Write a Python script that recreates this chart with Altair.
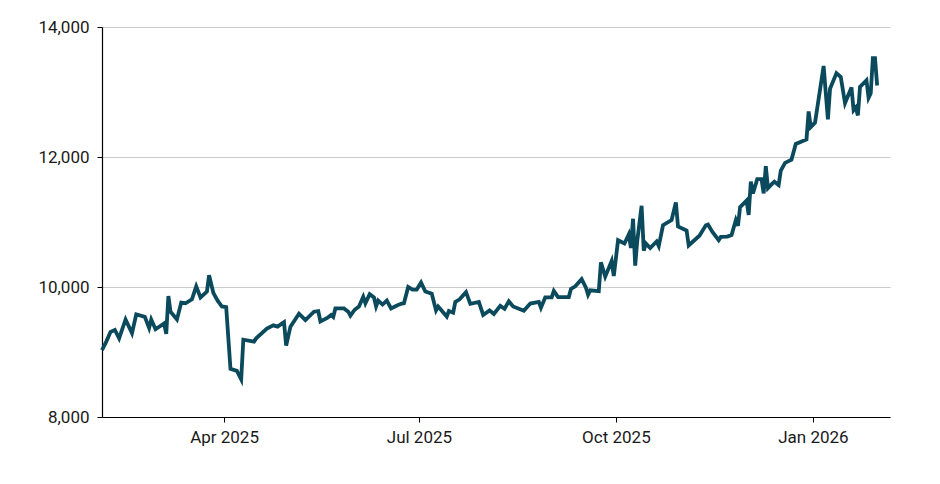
import altair as alt
import pandas as pd

dates = [
    "2025-02-03", "2025-02-05", "2025-02-07", "2025-02-09", "2025-02-11", "2025-02-14",
    "2025-02-17", "2025-02-19", "2025-02-23", "2025-02-25", "2025-02-26", "2025-02-28",
    "2025-03-04", "2025-03-05", "2025-03-06", "2025-03-07", "2025-03-10", "2025-03-12",
    "2025-03-14", "2025-03-17", "2025-03-19", "2025-03-21", "2025-03-24", "2025-03-25",
    "2025-03-27", "2025-03-29", "2025-03-31", "2025-04-02", "2025-04-04", "2025-04-07",
    "2025-04-09", "2025-04-10", "2025-04-15", "2025-04-16", "2025-04-21", "2025-04-24",
    "2025-04-26", "2025-04-29", "2025-04-30", "2025-05-02", "2025-05-06", "2025-05-09",
    "2025-05-13", "2025-05-15", "2025-05-16", "2025-05-19", "2025-05-21", "2025-05-22",
    "2025-05-23", "2025-05-27", "2025-05-29", "2025-05-30", "2025-06-01", "2025-06-03",
    "2025-06-05", "2025-06-06", "2025-06-08", "2025-06-10", "2025-06-11", "2025-06-12",
    "2025-06-14", "2025-06-16", "2025-06-18", "2025-06-21", "2025-06-23", "2025-06-24",
    "2025-06-26", "2025-06-28", "2025-06-30", "2025-07-02", "2025-07-04", "2025-07-07",
    "2025-07-09", "2025-07-10", "2025-07-14", "2025-07-15", "2025-07-17", "2025-07-18",
    "2025-07-20", "2025-07-23", "2025-07-25", "2025-07-29", "2025-07-31", "2025-08-03",
    "2025-08-05", "2025-08-08", "2025-08-10", "2025-08-12", "2025-08-14", "2025-08-19",
    "2025-08-22", "2025-08-26", "2025-08-27", "2025-08-29", "2025-09-01", "2025-09-02",
    "2025-09-04", "2025-09-09", "2025-09-10", "2025-09-12", "2025-09-15", "2025-09-17",
    "2025-09-18", "2025-09-19", "2025-09-23", "2025-09-24", "2025-09-26", "2025-09-29",
    "2025-09-30", "2025-10-02", "2025-10-05", "2025-10-07", "2025-10-08", "2025-10-09",
    "2025-10-10", "2025-10-11", "2025-10-13", "2025-10-14", "2025-10-15", "2025-10-17",
    "2025-10-20", "2025-10-21", "2025-10-23", "2025-10-27", "2025-10-29", "2025-10-30",
    "2025-11-03", "2025-11-04", "2025-11-06", "2025-11-09", "2025-11-12", "2025-11-13",
    "2025-11-15", "2025-11-18", "2025-11-19", "2025-11-22", "2025-11-24", "2025-11-26",
    "2025-11-27", "2025-11-28", "2025-12-01", "2025-12-02", "2025-12-03", "2025-12-04",
    "2025-12-06", "2025-12-08", "2025-12-09", "2025-12-10", "2025-12-11", "2025-12-13",
    "2025-12-14", "2025-12-16", "2025-12-17", "2025-12-19", "2025-12-22", "2025-12-24",
    "2025-12-29", "2025-12-30", "2025-12-31", "2026-01-02", "2026-01-06", "2026-01-08",
    "2026-01-09", "2026-01-12", "2026-01-14", "2026-01-16", "2026-01-19", "2026-01-20",
    "2026-01-21", "2026-01-22", "2026-01-23", "2026-01-26", "2026-01-27", "2026-01-28",
    "2026-01-29", "2026-01-30", "2026-01-31",
]

values = [
    9030, 9160, 9310, 9340, 9210, 9500,
    9290, 9580, 9540, 9370, 9500, 9350,
    9440, 9280, 9860, 9620, 9500, 9760,
    9750, 9810, 10010, 9840, 9930, 10180,
    9910, 9790, 9700, 9690, 8740, 8710,
    8580, 9190, 9160, 9210, 9360, 9410,
    9390, 9460, 9100, 9390, 9590, 9490,
    9620, 9630, 9470, 9520, 9570, 9540,
    9670, 9670, 9620, 9560, 9650, 9700,
    9850, 9750, 9890, 9840, 9700, 9790,
    9730, 9790, 9670, 9720, 9745, 9750,
    10000, 9960, 9960, 10070, 9930, 9895,
    9640, 9700, 9545, 9630, 9605, 9770,
    9810, 9920, 9740, 9770, 9570, 9640,
    9585, 9710, 9665, 9780, 9700, 9635,
    9745, 9770, 9680, 9840, 9840, 9940,
    9845, 9845, 9970, 10010, 10120, 9990,
    9880, 9950, 9935, 10380, 10160, 10400,
    10170, 10720, 10670, 10810, 10600, 11050,
    10330, 10720, 11250, 10560, 10670, 10600,
    10700, 10630, 10950, 11030, 11300, 10930,
    10870, 10640, 10700, 10790, 10950, 10960,
    10850, 10720, 10770, 10775, 10800, 11030,
    10940, 11230, 11330, 11110, 11620, 11440,
    11660, 11660, 11440, 11860, 11520, 11590,
    11620, 11570, 11790, 11910, 11960, 12200,
    12270, 12700, 12460, 12530, 13400, 12580,
    13050, 13290, 13230, 12830, 13070, 12720,
    12760, 12640, 13080, 13180, 12910, 12980,
    13520, 13520, 13100,
]

y_ticks = [8000, 10000, 12000, 14000]

df = pd.DataFrame({"date": [d + "T00:00:00" for d in dates], "value": values})

x_ticks = [
    alt.DateTime(year=2025, month=4, date=1),
    alt.DateTime(year=2025, month=7, date=1),
    alt.DateTime(year=2025, month=10, date=1),
    alt.DateTime(year=2026, month=1, date=1),
]

chart = (
    alt.Chart(df)
    .mark_line(color="#0b4a5c", strokeWidth=3.8, strokeJoin="miter")
    .encode(
        x=alt.X(
            "date:T",
            title=None,
            scale=alt.Scale(
                domain=[
                    alt.DateTime(year=2025, month=2, date=3),
                    alt.DateTime(year=2026, month=2, date=6),
                ]
            ),
            axis=alt.Axis(
                values=x_ticks,
                format="%b %Y",
                grid=False,
                domainColor="#000000",
                tickColor="#000000",
                tickSize=5,
                labelPadding=7,
            ),
        ),
        y=alt.Y(
            "value:Q",
            title=None,
            scale=alt.Scale(domain=[8000, 14000], nice=False, zero=False),
            axis=alt.Axis(
                values=y_ticks,
                format=",.0f",
                grid=True,
                gridColor="#cccccc",
                gridWidth=1,
                domainColor="#000000",
                tickColor="#000000",
                tickSize=5,
                labelPadding=8,
            ),
        ),
    )
    .properties(
        width=788,
        height=390,
        autosize=alt.AutoSizeParams(type="none"),
        padding={"left": 94, "top": 19, "right": 30, "bottom": 50},
    )
    .configure_view(stroke=None)
    .configure_axis(
        labelFont="Roboto",
        labelFontSize=17,
        labelColor="#1a1a1a",
        domainWidth=1.2,
    )
)

chart.save("out.html", embed_options={"renderer": "svg", "actions": False})
